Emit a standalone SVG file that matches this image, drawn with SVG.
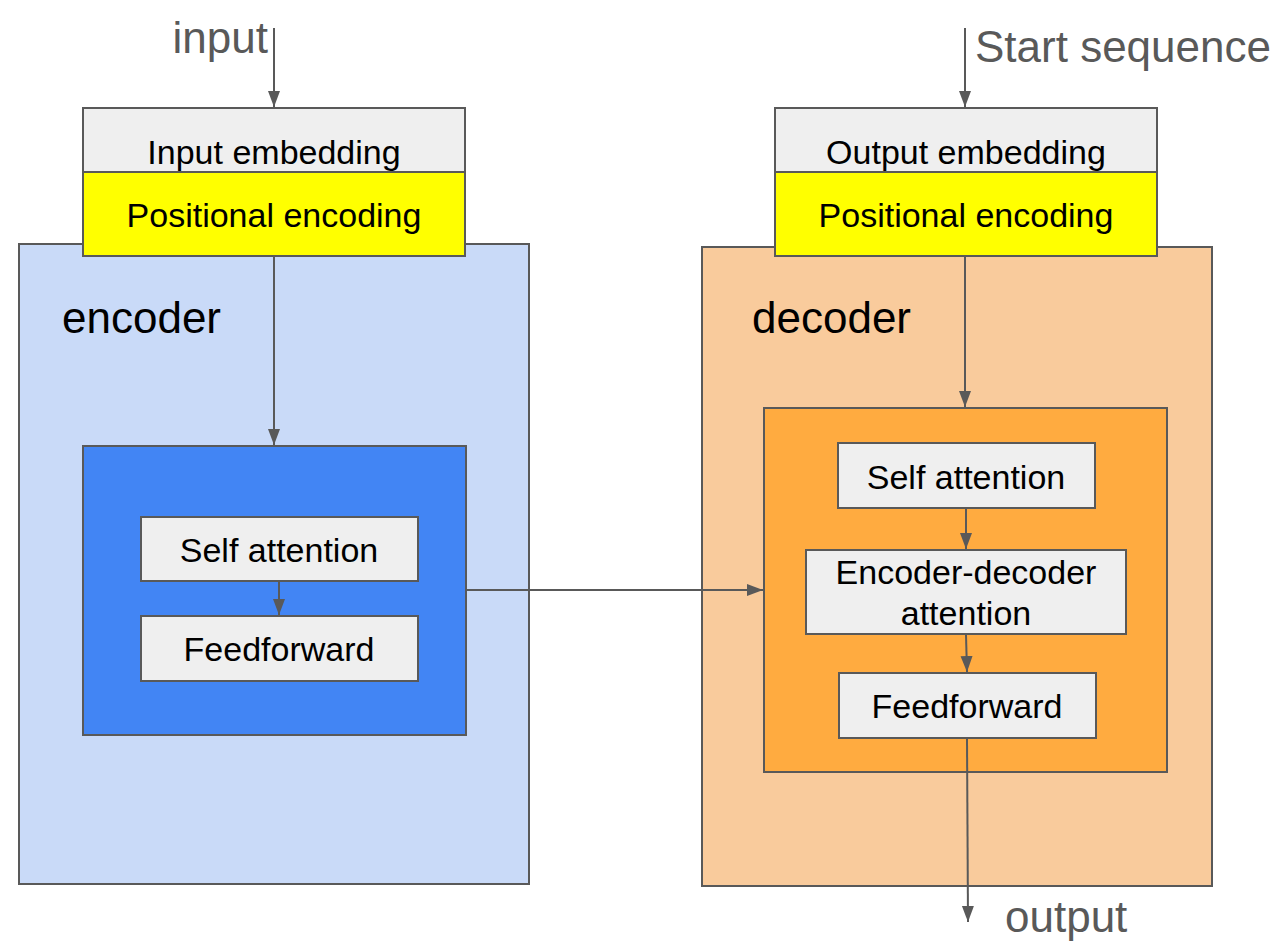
<svg xmlns="http://www.w3.org/2000/svg" width="1280" height="948" viewBox="0 0 1280 948">
<style>
  .box { stroke: #595959; stroke-width: 2; }
  .t { font-family: "Liberation Sans", Arial, sans-serif; font-size: 34px; fill: #000; text-anchor: middle; }
  .big { font-family: "Liberation Sans", Arial, sans-serif; font-size: 44px; }
  .grey { fill: #595959; }
  .edge { stroke: #595959; stroke-width: 2; fill: none; marker-end: url(#arr); }
</style>
<defs>
  <marker id="arr" markerWidth="9" markerHeight="7" refX="8" refY="3" orient="auto" markerUnits="strokeWidth">
    <path d="M0,0 L8,3 L0,6 Z" fill="#595959"/>
  </marker>
</defs>
<rect width="1280" height="948" fill="#ffffff"/>

<g id="encoder">
  <rect class="box" x="19" y="244" width="510" height="640" fill="#c9daf8"/>
  <text class="big" x="62" y="333" fill="#000">encoder</text>
</g>
<g id="decoder">
  <rect class="box" x="702" y="247" width="510" height="639" fill="#f9cb9c"/>
  <text class="big" x="752" y="333" fill="#000">decoder</text>
</g>

<g id="input-label"><text class="big grey" x="268" y="53" text-anchor="end">input</text></g>
<g id="start-label"><text class="big grey" x="975" y="62">Start sequence</text></g>
<g id="output-label"><text class="big grey" x="1005" y="932">output</text></g>

<g id="input-embedding">
  <rect class="box" x="83" y="108" width="382" height="64" fill="#efefef"/>
  <text class="t" x="274" y="164">Input embedding</text>
</g>
<g id="enc-positional">
  <rect class="box" x="83" y="172" width="382" height="84" fill="#ffff00"/>
  <text class="t" x="274" y="227">Positional encoding</text>
</g>
<g id="output-embedding">
  <rect class="box" x="775" y="108" width="382" height="64" fill="#efefef"/>
  <text class="t" x="966" y="164">Output embedding</text>
</g>
<g id="dec-positional">
  <rect class="box" x="775" y="172" width="382" height="84" fill="#ffff00"/>
  <text class="t" x="966" y="227">Positional encoding</text>
</g>

<g id="encoder-layer">
  <rect class="box" x="83" y="446" width="383" height="289" fill="#4285f4"/>
</g>
<g id="enc-self-attention">
  <rect class="box" x="141" y="517" width="277" height="64" fill="#efefef"/>
  <text class="t" x="279" y="562">Self attention</text>
</g>
<g id="enc-feedforward">
  <rect class="box" x="141" y="616" width="277" height="65" fill="#efefef"/>
  <text class="t" x="279" y="661">Feedforward</text>
</g>

<g id="decoder-layer">
  <rect class="box" x="764" y="408" width="403" height="364" fill="#ffab40"/>
</g>
<g id="dec-self-attention">
  <rect class="box" x="838" y="443" width="257" height="65" fill="#efefef"/>
  <text class="t" x="966" y="489">Self attention</text>
</g>
<g id="enc-dec-attention">
  <rect class="box" x="806" y="550" width="320" height="84" fill="#efefef"/>
  <text class="t" x="966" y="584">Encoder-decoder</text>
  <text class="t" x="966" y="625">attention</text>
</g>
<g id="dec-feedforward">
  <rect class="box" x="839" y="673" width="257" height="65" fill="#efefef"/>
  <text class="t" x="967" y="718">Feedforward</text>
</g>

<g id="connectors">
  <line class="edge" x1="274" y1="28" x2="274" y2="107"/>
  <line class="edge" x1="965" y1="28" x2="965" y2="107"/>
  <line class="edge" x1="274" y1="257" x2="274" y2="445"/>
  <line class="edge" x1="965" y1="257" x2="965" y2="407"/>
  <line class="edge" x1="279" y1="582" x2="279" y2="615"/>
  <line class="edge" x1="467" y1="590" x2="763" y2="590"/>
  <line class="edge" x1="966" y1="509" x2="966" y2="549"/>
  <line class="edge" x1="966" y1="635" x2="967" y2="672"/>
  <line class="edge" x1="967" y1="739" x2="968" y2="922"/>
</g>
</svg>
